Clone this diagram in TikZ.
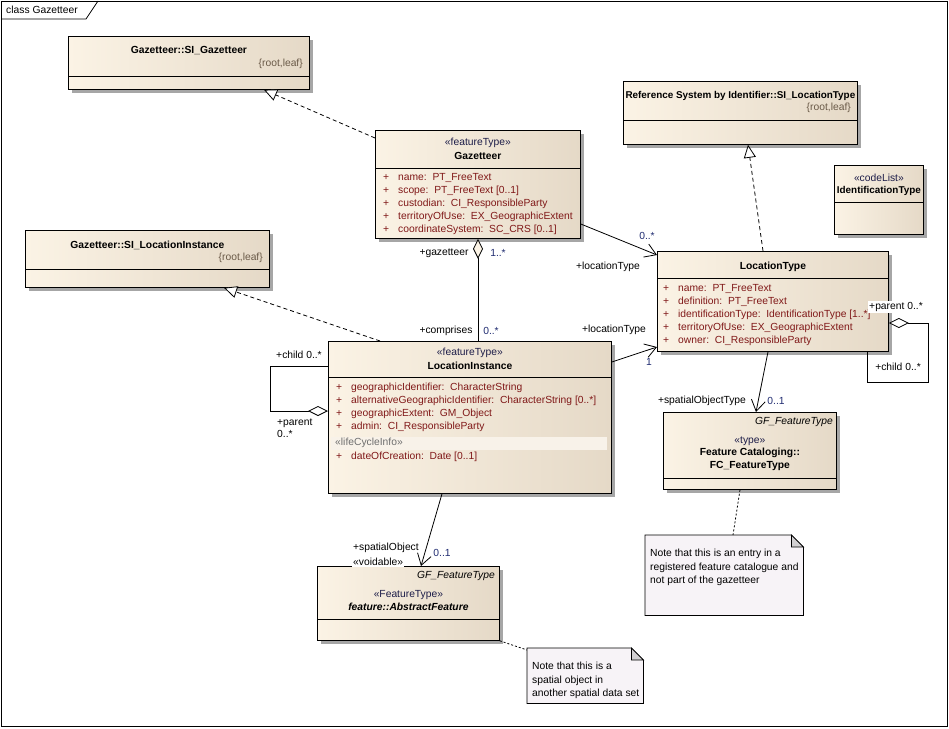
\documentclass[tikz,border=0pt]{standalone}
\usepackage{fontspec}
\setmainfont{Liberation Sans}
\usepackage{xcolor}
\usepackage{tikz}
\usetikzlibrary{positioning, arrows.meta, calc, shadows}
\definecolor{clsL}{HTML}{FBF3E5}
\definecolor{clsR}{HTML}{E5D9C7}
\definecolor{clsBand}{HTML}{F8F2E9}
\definecolor{noteBg}{HTML}{F7F3F7}
\definecolor{noteFold}{HTML}{D2D0D2}
\definecolor{attrC}{HTML}{801818}
\definecolor{stereoC}{HTML}{1C1C48}
\definecolor{tagC}{HTML}{6A5A48}
\definecolor{multC}{HTML}{1F2B70}
\definecolor{lcC}{HTML}{6E6E6E}
\newcommand{\attr}[1]{\makebox[15pt][l]{+}#1}

\begin{document}
\begin{tikzpicture}[x=1pt, y=-1pt, font=\fontsize{10.3}{12}\selectfont,
txt/.style={inner sep=0pt},
cls/.style={draw, line width=0.8pt, left color=clsL, right color=clsR, anchor=north west, inner sep=0pt, drop shadow={shadow xshift=4pt, shadow yshift=-4pt, fill=black!35, opacity=1}},
ttl/.style={txt, font=\fontsize{10.3}{13}\selectfont\bfseries, align=center},
st/.style={txt, text=stereoC},
tag/.style={txt, text=tagC, anchor=east},
attrs/.style={txt, text=attrC, align=left, anchor=north west, font=\fontsize{10.3}{13.1}\selectfont},
role/.style={txt},
mult/.style={txt, text=multC},
noteBox/.style={anchor=north west, inner sep=0pt},
noteTxt/.style={txt, align=left, anchor=north west, font=\fontsize{10.3}{13.5}\selectfont},
real/.style={line width=0.8pt, dash pattern=on 4pt off 3pt, -{Triangle[length=13pt, width=12pt, fill=white]}},
assoc/.style={line width=0.8pt, -{Straight Barb[length=11pt, width=14pt]}},
agg/.style={line width=0.8pt, {Diamond[length=20pt, width=10pt, fill=#1]}-}, agg/.default=white,
link/.style={line width=0.8pt, dash pattern=on 2pt off 2pt}]
\useasboundingbox (0,0) rectangle (949,728);
\node[draw, line width=0.8pt, minimum width=946, minimum height=725, anchor=north west, inner sep=0pt] (frame) at (1,1) {};
\draw[line width=0.8pt] (frame.west |- 0,19) -- (86,19) -- (98,1);
\node[txt, anchor=west] (frameLbl) at (6,10) {class Gazetteer};
% classes
\node[cls, minimum width=241, minimum height=53] (siGaz) at (68,36) {};
\draw[line width=0.8pt] (siGaz.west |- 0,76) -- (siGaz.east |- 0,76);
\node[ttl] (siGazN) at (siGaz.north |- 0,51) {Gazetteer::SI\_Gazetteer};
\node[tag] (siGazT) at (303,64) {\{root,leaf\}};
\node[cls, minimum width=244, minimum height=57] (siLI) at (25,230) {};
\draw[line width=0.8pt] (siLI.west |- 0,269) -- (siLI.east |- 0,269);
\node[ttl] (siLIN) at (siLI.north |- 0,245) {Gazetteer::SI\_LocationInstance};
\node[tag] (siLIT) at (263,258) {\{root,leaf\}};
\node[cls, minimum width=234, minimum height=63] (siLT) at (623,81) {};
\draw[line width=0.8pt] (siLT.west |- 0,120) -- (siLT.east |- 0,120);
\node[ttl, font=\fontsize{9.9}{12}\selectfont\bfseries] (siLTN) at (siLT.north |- 0,96) {Reference System by Identifier::SI\_LocationType};
\node[tag] (siLTT) at (851,108) {\{root,leaf\}};
\node[cls, minimum width=89, minimum height=69] (idt) at (834,165) {};
\draw[line width=0.8pt] (idt.west |- 0,202) -- (idt.east |- 0,202);
\node[st] (idtS) at (idt.north |- 0,178) {«codeList»};
\node[ttl, font=\fontsize{9.9}{12}\selectfont\bfseries] (idtN) at (idt.north |- 0,191) {IdentificationType};
\node[cls, minimum width=205, minimum height=108] (gaz) at (375,130) {};
\draw[line width=0.8pt] (gaz.west |- 0,168) -- (gaz.east |- 0,168);
\node[st] (gazS) at (gaz.north |- 0,143) {«featureType»};
\node[ttl] (gazN) at (gaz.north |- 0,156) {Gazetteer};
\node[attrs] (gazA) at (383,173) {\attr{name:~~PT\_FreeText}\\\attr{scope:~~PT\_FreeText [0..1]}\\\attr{custodian:~~CI\_ResponsibleParty}\\\attr{territoryOfUse:~~EX\_GeographicExtent}\\\attr{coordinateSystem:~~SC\_CRS [0..1]}};
\node[cls, minimum width=231, minimum height=100] (lt) at (657,251) {};
\draw[line width=0.8pt] (lt.west |- 0,278) -- (lt.east |- 0,278);
\node[ttl] (ltN) at (lt.north |- 0,267) {LocationType};
\node[attrs] (ltA) at (663,284) {\attr{name:~~PT\_FreeText}\\\attr{definition:~~PT\_FreeText}\\\attr{identificationType:~~IdentificationType [1..*]}\\\attr{territoryOfUse:~~EX\_GeographicExtent}\\\attr{owner:~~CI\_ResponsibleParty}};
\node[cls, minimum width=283, minimum height=152] (li) at (328,341) {};
\draw[line width=0.8pt] (li.west |- 0,377) -- (li.east |- 0,377);
\node[st] (liS) at (li.north |- 0,353) {«featureType»};
\node[ttl] (liN) at (li.north |- 0,366) {LocationInstance};
\node[attrs] (liA) at (336,383) {\attr{geographicIdentifier:~~CharacterString}\\\attr{alternativeGeographicIdentifier:~~CharacterString [0..*]}\\\attr{geographicExtent:~~GM\_Object}\\\attr{admin:~~CI\_ResponsibleParty}};
\fill[clsBand] (331,437) rectangle (607,450);
\node[txt, text=lcC, anchor=west] (liLC) at (335,443) {«lifeCycleInfo»};
\node[attrs, anchor=west] (liD) at (336,457) {\attr{dateOfCreation:~~Date [0..1]}};
\node[cls, minimum width=173, minimum height=77] (fct) at (663,412) {};
\draw[line width=0.8pt] (fct.west |- 0,478) -- (fct.east |- 0,478);
\node[txt, anchor=east, font=\fontsize{10.3}{12}\selectfont\itshape] (fctG) at (833,422) {GF\_FeatureType};
\node[st] (fctS) at (fct.north |- 0,441) {«type»};
\node[ttl] (fctN) at (fct.north |- 0,459.5) {Feature Cataloging::\\FC\_FeatureType};
\node[cls, minimum width=182, minimum height=74] (af) at (317,566) {};
\draw[line width=0.8pt] (af.west |- 0,619) -- (af.east |- 0,619);
\node[txt, anchor=east, font=\fontsize{10.3}{12}\selectfont\itshape] (afG) at (495,576) {GF\_FeatureType};
\node[st] (afS) at (af.north |- 0,595) {«FeatureType»};
\node[ttl, font=\fontsize{10.3}{12}\selectfont\bfseries\itshape] (afN) at (af.north |- 0,607) {feature::AbstractFeature};
% notes
\node[noteBox, minimum width=158, minimum height=80] (n1) at (645,535) {};
\draw[line width=0.8pt, fill=noteBg] (n1.south west) -- (n1.north west) -- ([xshift=-12pt]n1.north east) -- ([yshift=-12pt]n1.north east) -- (n1.south east) -- cycle;
\draw[line width=0.8pt, fill=noteFold] ([xshift=-12pt]n1.north east) -- ([xshift=-12pt, yshift=-12pt]n1.north east) -- ([yshift=-12pt]n1.north east) -- cycle;
\node[noteTxt] (n1T) at (650,549) {Note that this is an entry in a\\registered feature catalogue and\\not part of the gazetteer};
\node[noteBox, minimum width=116, minimum height=55] (n2) at (527,648) {};
\draw[line width=0.8pt, fill=noteBg] (n2.south west) -- (n2.north west) -- ([xshift=-12pt]n2.north east) -- ([yshift=-12pt]n2.north east) -- (n2.south east) -- cycle;
\draw[line width=0.8pt, fill=noteFold] ([xshift=-12pt]n2.north east) -- ([xshift=-12pt, yshift=-12pt]n2.north east) -- ([yshift=-12pt]n2.north east) -- cycle;
\node[noteTxt] (n2T) at (532,662) {Note that this is a\\spatial object in\\another spatial data set};
% connectors
\draw[real] (gaz.west |- 0,138) -- (siGaz.south -| 264,0);
\draw[real] (li.north -| 380,0) -- (siLI.south -| 224,0);
\draw[real] (lt.north -| 763,0) -- (siLT.south -| 748,0);
\draw[agg=clsL] (gaz.south -| 478,0) -- (li.north -| 478,0);
\draw[assoc] (gaz.east |- 0,224) -- (lt.west |- 0,255);
\draw[assoc] (li.east |- 0,362) -- (lt.west |- 0,347);
\draw[agg] (lt.east |- 0,323) -| (928,382) -| (lt.south -| 867,0);
\draw[agg] (li.west |- 0,411) -| (270,366) -- (li.west |- 0,366);
\draw[assoc] (lt.south -| 768,0) -- (fct.north -| 756,0);
\draw[assoc] (li.south -| 442,0) -- (af.north -| 421,0);
\draw[link] (fct.south -| 740,0) -- (n1.north -| 733,0);
\draw[link] (af.south east) -- ([yshift=-2pt]n2.north west);
% labels
\node[role] (rGaz) at (444,253) {+gazetteer};
\node[mult] (mGaz) at (498,253) {1..*};
\node[role] (rCmp) at (446,331) {+comprises};
\node[mult] (mCmp) at (491,331) {0..*};
\node[mult] (mLT1) at (647,236) {0..*};
\node[role] (rLT1) at (608,267) {+locationType};
\node[role] (rLT2) at (614,330) {+locationType};
\node[mult] (mLT2) at (649,362) {1};
\node[role, fill=white, inner sep=1pt] (rPar1) at (896,307) {+parent 0..*};
\node[role] (rChd1) at (898,367) {+child 0..*};
\node[role] (rChd2) at (299,355) {+child 0..*};
\node[role, align=left, anchor=north west] (rPar2) at (277,419) {+parent\\0..*};
\node[role] (rSOT) at (702,401) {+spatialObjectType};
\node[mult] (mSOT) at (776,401) {0..1};
\node[role, anchor=west] (rSO) at (353,548) {+spatialObject};
\node[role, anchor=west, fill=white, inner sep=1pt] (rVoid) at (352,562) {«voidable»};
\node[mult] (mSO) at (442,553) {0..1};
\end{tikzpicture}
\end{document}
